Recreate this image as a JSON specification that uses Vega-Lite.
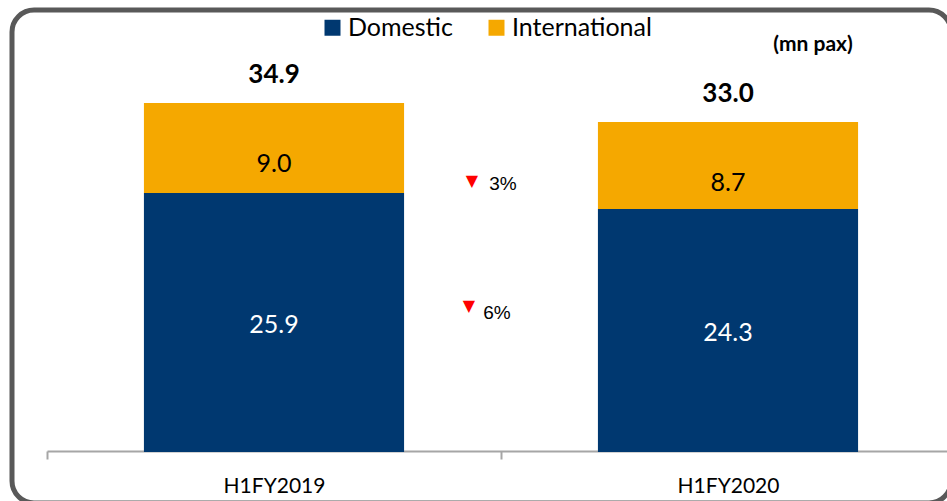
{
  "$schema": "https://vega.github.io/schema/vega-lite/v6.json",
  "width": 939,
  "height": 493,
  "autosize": {"type": "none"},
  "padding": {"left": 12, "top": 10, "right": -4, "bottom": -2},
  "background": "white",
  "config": {
    "view": {"stroke": "#595959", "strokeWidth": 5, "cornerRadius": 22, "fill": "white"},
    "font": "Lato",
    "legend": {
      "symbolType": "square",
      "symbolSize": 256,
      "symbolStrokeWidth": 0,
      "symbolOpacity": 1,
      "labelFont": "Lato",
      "labelFontSize": 25,
      "labelColor": "#000000",
      "labelOffset": 3,
      "columnPadding": 31
    }
  },
  "data": {
    "values": [
      {"period": "H1FY2019", "type": "Domestic", "value": 25.9},
      {"period": "H1FY2019", "type": "International", "value": 9.0},
      {"period": "H1FY2020", "type": "Domestic", "value": 24.3},
      {"period": "H1FY2020", "type": "International", "value": 8.7}
    ]
  },
  "layer": [
    {
      "mark": {"type": "bar", "width": {"band": 0.573}},
      "encoding": {
        "x": {
          "field": "period",
          "type": "nominal",
          "scale": {"domain": ["H1FY2019", "H1FY2020"], "range": [35, 943], "paddingInner": 0, "paddingOuter": 0},
          "axis": {
            "title": null,
            "orient": "bottom",
            "offset": -52,
            "labelAngle": 0,
            "labelFont": "Lato",
            "labelFontSize": 21,
            "labelColor": "#000000",
            "labelPadding": 16,
            "tickBand": "extent",
            "ticks": true,
            "tickSize": 8,
            "tickWidth": 2,
            "tickColor": "#a6a6a6",
            "domainColor": "#a6a6a6",
            "domainWidth": 2,
            "grid": false
          }
        },
        "y": {
          "field": "value",
          "type": "quantitative",
          "stack": "zero",
          "scale": {"domain": [-5.1, 44.2], "nice": false, "zero": false},
          "axis": null
        },
        "color": {
          "field": "type",
          "type": "nominal",
          "scale": {"domain": ["Domestic", "International"], "range": ["#003870", "#F5A800"]},
          "legend": {"title": null, "orient": "none", "legendX": 308, "legendY": 5, "direction": "horizontal"}
        },
        "order": {"field": "type", "sort": "ascending"}
      }
    },
    {
      "mark": {"type": "text", "fontSize": 25, "fill": "#ffffff", "baseline": "middle", "dy": 2},
      "encoding": {
        "x": {"field": "period", "type": "nominal"},
        "y": {"field": "value", "type": "quantitative", "stack": "zero", "bandPosition": 0.5},
        "detail": {"field": "type", "type": "nominal"},
        "order": {"field": "type", "sort": "ascending"},
        "text": {"condition": {"test": "datum.type === 'Domestic'", "field": "value", "type": "quantitative", "format": ".1f"}, "value": ""}
      }
    },
    {
      "data": {"values": [{"period": "H1FY2019", "total": 34.9, "international": 9.0}, {"period": "H1FY2020", "total": 33.0, "international": 8.7}]},
      "mark": {"type": "text", "fontSize": 25, "fill": "#000000", "baseline": "middle", "dy": 61},
      "encoding": {
        "x": {"field": "period", "type": "nominal"},
        "y": {"field": "total", "type": "quantitative"},
        "text": {"field": "international", "type": "quantitative", "format": ".1f"}
      }
    },
    {
      "data": {"values": [{"period": "H1FY2019", "total": 34.9}, {"period": "H1FY2020", "total": 33.0}]},
      "mark": {"type": "text", "fontSize": 26, "fontWeight": "bold", "fill": "#000000", "baseline": "middle", "dy": -28},
      "encoding": {
        "x": {"field": "period", "type": "nominal"},
        "y": {"field": "total", "type": "quantitative"},
        "text": {"field": "total", "type": "quantitative", "format": ".1f"}
      }
    },
    {
      "data": {"values": [{"period": "H1FY2020", "total": 33.0, "label": "(mn pax)"}]},
      "mark": {"type": "text", "fontSize": 21, "fontWeight": "bold", "fill": "#000000", "baseline": "middle", "dx": 85, "dy": -77},
      "encoding": {
        "x": {"field": "period", "type": "nominal"},
        "y": {"field": "total", "type": "quantitative"},
        "text": {"field": "label", "type": "nominal"}
      }
    },
    {
      "data": {"values": [{"period": "H1FY2019", "total": 34.9, "label": "▼"}]},
      "mark": {"type": "text", "font": "DejaVu Sans", "fontSize": 16, "fill": "#ff0000", "baseline": "middle", "dx": 198, "dy": 78},
      "encoding": {
        "x": {"field": "period", "type": "nominal"},
        "y": {"field": "total", "type": "quantitative"},
        "text": {"field": "label", "type": "nominal"}
      }
    },
    {
      "data": {"values": [{"period": "H1FY2019", "total": 34.9, "label": "3%"}]},
      "mark": {"type": "text", "font": "Liberation Sans", "fontSize": 19, "fill": "#000000", "baseline": "middle", "dx": 229, "dy": 81},
      "encoding": {
        "x": {"field": "period", "type": "nominal"},
        "y": {"field": "total", "type": "quantitative"},
        "text": {"field": "label", "type": "nominal"}
      }
    },
    {
      "data": {"values": [{"period": "H1FY2019", "total": 34.9, "label": "▼"}]},
      "mark": {"type": "text", "font": "DejaVu Sans", "fontSize": 16, "fill": "#ff0000", "baseline": "middle", "dx": 195, "dy": 203},
      "encoding": {
        "x": {"field": "period", "type": "nominal"},
        "y": {"field": "total", "type": "quantitative"},
        "text": {"field": "label", "type": "nominal"}
      }
    },
    {
      "data": {"values": [{"period": "H1FY2019", "total": 34.9, "label": "6%"}]},
      "mark": {"type": "text", "font": "Liberation Sans", "fontSize": 19, "fill": "#000000", "baseline": "middle", "dx": 223, "dy": 210},
      "encoding": {
        "x": {"field": "period", "type": "nominal"},
        "y": {"field": "total", "type": "quantitative"},
        "text": {"field": "label", "type": "nominal"}
      }
    }
  ]
}
